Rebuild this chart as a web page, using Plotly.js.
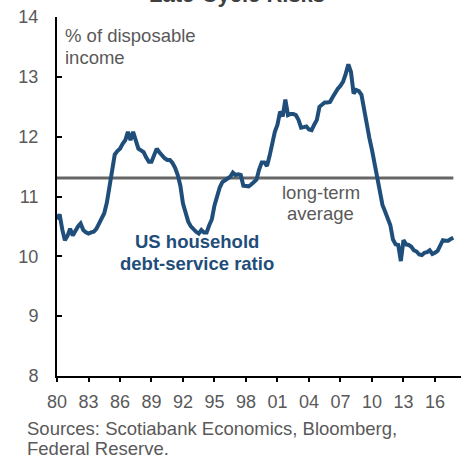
<!DOCTYPE html>
<html>
<head>
<meta charset="utf-8">
<script src="https://cdn.plot.ly/plotly-3.0.1.min.js"></script>
<style>html,body{margin:0;padding:0;background:#fff;}#chart{width:461px;height:456px;}</style>
</head>
<body>
<div id="chart"></div>
<script>
// Quarterly dates (decimal years) 1980Q1 - 2017Q4
const years = [];
for (let y = 1980; y <= 2017; y++) { years.push(y, y + 0.25, y + 0.5, y + 0.75); }

// US household debt-service ratio, % of disposable income
const dsr = [
  10.62, 10.70, 10.45, 10.27,  // 1980
  10.34, 10.46, 10.35, 10.44,  // 1981
  10.50, 10.55, 10.44, 10.40,  // 1982
  10.38, 10.40, 10.41, 10.46,  // 1983
  10.55, 10.63, 10.72, 10.90,  // 1984
  11.15, 11.44, 11.70, 11.76,  // 1985
  11.80, 11.88, 11.94, 12.08,  // 1986
  11.94, 12.08, 11.92, 11.80,  // 1987
  11.77, 11.74, 11.65, 11.58,  // 1988
  11.58, 11.70, 11.80, 11.74,  // 1989
  11.68, 11.64, 11.61, 11.61,  // 1990
  11.56, 11.48, 11.36, 11.18,  // 1991
  10.88, 10.70, 10.58, 10.50,  // 1992
  10.45, 10.41, 10.38, 10.44,  // 1993
  10.40, 10.40, 10.52, 10.62,  // 1994
  10.85, 11.00, 11.15, 11.24,  // 1995
  11.27, 11.29, 11.33, 11.40,  // 1996
  11.36, 11.37, 11.36, 11.18,  // 1997
  11.17, 11.17, 11.20, 11.24,  // 1998
  11.28, 11.45, 11.57, 11.57,  // 1999
  11.51, 11.68, 11.88, 12.08,  // 2000
  12.20, 12.42, 12.34, 12.62,  // 2001
  12.36, 12.38, 12.38, 12.36,  // 2002
  12.28, 12.15, 12.16, 12.17,  // 2003
  12.12, 12.11, 12.20, 12.28,  // 2004
  12.50, 12.54, 12.57, 12.57,  // 2005
  12.58, 12.66, 12.74, 12.80,  // 2006
  12.85, 12.92, 13.05, 13.21,  // 2007
  13.08, 12.72, 12.78, 12.76,  // 2008
  12.70, 12.45, 12.18, 11.98,  // 2009
  11.78, 11.55, 11.33, 11.05,  // 2010
  10.86, 10.75, 10.64, 10.52,  // 2011
  10.28, 10.20, 10.19, 9.92,   // 2012
  10.27, 10.20, 10.19, 10.16,  // 2013
  10.10, 10.08, 10.03, 10.02,  // 2014
  10.06, 10.07, 10.10, 10.04,  // 2015
  10.06, 10.09, 10.18, 10.27,  // 2016
  10.26, 10.26, 10.29, 10.31   // 2017
];

const avgValue = 11.31;
const avgX = [1980, 2017.75];
const avgY = [avgValue, avgValue];

const tickYears = [1980, 1983, 1986, 1989, 1992, 1995, 1998, 2001, 2004, 2007, 2010, 2013, 2016];
const tickLabels = ['80', '83', '86', '89', '92', '95', '98', '01', '04', '07', '10', '13', '16'];

const FONT = 'Liberation Sans, Arial, sans-serif';
const GRAY = '#595959';
const BLUE = '#1f4e7a';
const FS = 18.5;

const traces = [
  { x: avgX, y: avgY, mode: 'lines', line: { color: '#666666', width: 3 }, hoverinfo: 'skip' },
  { x: years, y: dsr, mode: 'lines', line: { color: BLUE, width: 4 } }
];

function txt(x, y, s, opts) {
  return Object.assign({ x: x, y: y, text: s, showarrow: false, yanchor: 'middle',
    font: { family: FONT, size: FS, color: GRAY } }, opts || {});
}

const layout = {
  width: 461, height: 456,
  margin: { l: 57, r: 0, t: 17, b: 80 },
  paper_bgcolor: '#fff', plot_bgcolor: '#fff',
  showlegend: false,
  font: { family: FONT, size: 18, color: GRAY },
  xaxis: {
    range: [1980, 2018.48],
    tickvals: tickYears, ticktext: tickLabels,
    ticks: 'outside', ticklen: 4, tickwidth: 2, tickcolor: '#000',
    showline: true, linecolor: '#000', linewidth: 2,
    showgrid: false, zeroline: false,
    tickfont: { family: FONT, size: 18, color: GRAY },
    ticklabelstandoff: 4
  },
  yaxis: {
    range: [8, 14], dtick: 1,
    ticks: 'inside', ticklen: 5, tickwidth: 2, tickcolor: '#000',
    showline: true, linecolor: '#000', linewidth: 2,
    showgrid: false, zeroline: false,
    tickfont: { family: FONT, size: 18, color: GRAY },
    ticklabelstandoff: 13
  },
  annotations: [
    { xref: 'paper', yref: 'paper', x: 0.445, y: 1, yanchor: 'bottom', yshift: 8, showarrow: false,
      text: '<b>Late-Cycle Risks</b>', font: { family: FONT, size: 22, color: '#404040' } },
    txt(1980.55, 13.69, '% of disposable', { xanchor: 'left' }),
    txt(1980.55, 13.33, 'income', { xanchor: 'left' }),
    txt(1993.33, 10.24, '<b>US household</b>', { xanchor: 'center', font: { family: FONT, size: FS, color: BLUE } }),
    txt(1993.33, 9.88, '<b>debt-service ratio</b>', { xanchor: 'center', font: { family: FONT, size: FS, color: BLUE } }),
    txt(2005.14, 11.06, 'long-term', { xanchor: 'center' }),
    txt(2005.14, 10.71, 'average', { xanchor: 'center' }),
    txt(-0.08, -0.145, 'Sources: Scotiabank Economics, Bloomberg,', { xref: 'paper', yref: 'paper', xanchor: 'left' }),
    txt(-0.08, -0.202, 'Federal Reserve.', { xref: 'paper', yref: 'paper', xanchor: 'left' })
  ]
};

Plotly.newPlot('chart', traces, layout, { displayModeBar: false, staticPlot: true });
</script>
</body>
</html>
